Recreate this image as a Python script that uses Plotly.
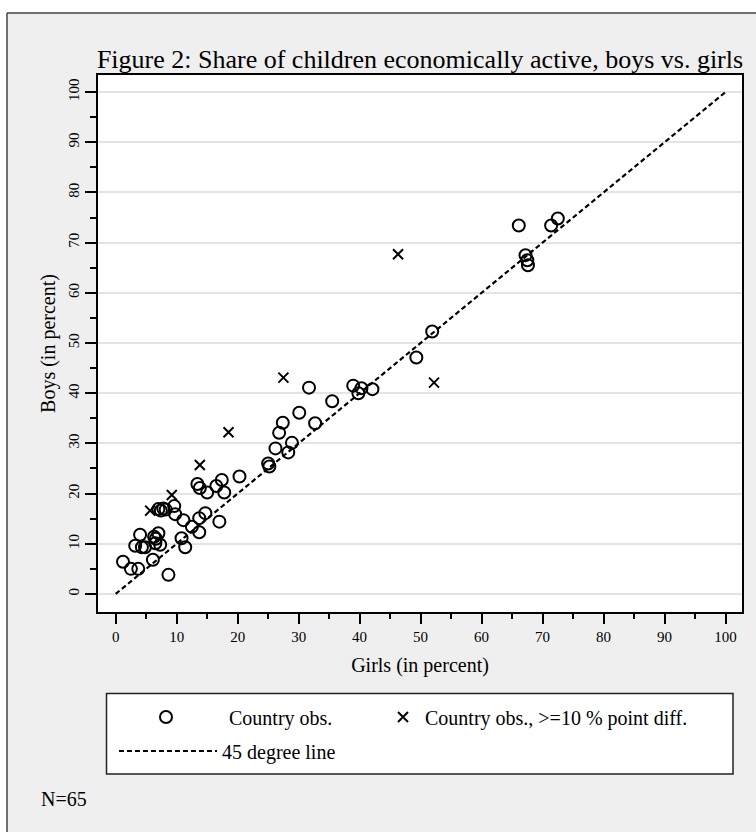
import plotly.graph_objects as go

# Country observations (girls %, boys %)
girls_obs = [1.2, 2.5, 3.7, 6.1, 8.65, 3.2, 4.3, 4.8, 4.0, 6.3, 6.6, 6.5, 7.3, 7.0,
             10.8, 11.4, 7.0, 7.4, 7.8, 8.2, 9.6, 9.75, 11.1, 12.5, 13.7, 14.7, 13.7,
             17.0, 13.4, 13.8, 15.0, 16.5, 17.4, 17.8, 20.3, 25.0, 25.2, 26.2, 28.3,
             28.9, 26.8, 27.4, 32.7, 30.1, 35.5, 31.7, 38.95, 40.3, 39.8, 42.1, 49.3,
             51.9, 66.1, 71.4, 72.5, 67.2, 67.5, 67.6]
boys_obs = [6.4, 5.0, 5.0, 6.8, 3.8, 9.6, 9.3, 9.3, 11.8, 11.4, 11.0, 10.1, 9.8, 12.1,
            11.1, 9.3, 16.9, 16.6, 17.0, 16.8, 17.5, 15.9, 14.7, 13.4, 15.1, 16.1, 12.3,
            14.4, 21.9, 21.1, 20.2, 21.5, 22.7, 20.2, 23.4, 26.0, 25.4, 29.0, 28.2,
            30.1, 32.1, 34.1, 34.0, 36.1, 38.4, 41.1, 41.5, 41.0, 40.0, 40.8, 47.1,
            52.3, 73.4, 73.4, 74.8, 67.5, 66.5, 65.5]

# Observations with >= 10 percentage point difference
girls_diff = [5.65, 9.2, 13.8, 18.5, 27.5, 46.3, 52.2]
boys_diff = [16.6, 19.7, 25.7, 32.2, 43.1, 67.7, 42.1]

# 45 degree line
line_x = [0, 100]
line_y = [0, 100]

tick_vals = list(range(0, 101, 10))
tick_text = [str(v) for v in tick_vals]

FONT = "Liberation Serif"

fig = go.Figure()
fig.add_trace(go.Scatter(
    x=girls_obs, y=boys_obs, mode="markers", name="Country obs.",
    marker=dict(symbol="circle-open", size=12, color="black", line=dict(width=2, color="black")),
    legend="legend",
))
fig.add_trace(go.Scatter(
    x=girls_diff, y=boys_diff, mode="markers", name="Country obs., >=10 % point diff.",
    marker=dict(symbol="x-thin-open", size=10, color="black", line=dict(width=2, color="black")),
    legend="legend2",
))
fig.add_trace(go.Scatter(
    x=line_x, y=line_y, mode="lines", name="45 degree line",
    line=dict(color="black", width=2.2, dash="5px,3px"),
    legend="legend3",
))

W, H = 756, 832
L, R, T, B = 98, 14, 75, 220
pw, ph = W - L - R, H - T - B

def px_x(p):
    return (p - L) / pw

def px_y(p):
    return (H - B - p) / ph

shapes = [
    # grey graph region
    dict(type="rect", xref="paper", yref="paper", layer="below",
         x0=px_x(7), x1=px_x(820), y0=px_y(900), y1=px_y(13),
         fillcolor="#efefef", line=dict(width=0)),
    # outer border (top and left edges visible)
    dict(type="line", xref="paper", yref="paper", layer="below",
         x0=px_x(7), x1=px_x(820), y0=px_y(13), y1=px_y(13),
         line=dict(color="#444444", width=1.5)),
    dict(type="line", xref="paper", yref="paper", layer="below",
         x0=px_x(7), x1=px_x(7), y0=px_y(13), y1=px_y(900),
         line=dict(color="#444444", width=1.5)),
    # white plot region
    dict(type="rect", xref="paper", yref="paper", layer="below",
         x0=0, x1=1, y0=0, y1=1, fillcolor="white", line=dict(width=0)),
    # legend box
    dict(type="rect", xref="paper", yref="paper", layer="below",
         x0=px_x(106.5), x1=px_x(733), y0=px_y(774), y1=px_y(693.5),
         fillcolor="white", line=dict(color="#222222", width=1.5)),
]

legend_common = dict(orientation="v", bgcolor="rgba(0,0,0,0)", borderwidth=0,
                     font=dict(family=FONT, size=20, color="black"),
                     xanchor="left", yanchor="middle")

fig.update_layout(
    width=W, height=H,
    margin=dict(l=L, r=R, t=T, b=B, autoexpand=False),
    paper_bgcolor="white",
    plot_bgcolor="white",
    shapes=shapes,
    title=dict(text="Figure 2: Share of children economically active, boys vs. girls",
               x=0.5, xref="paper", xanchor="center",
               y=1 - 59 / H, yref="container", yanchor="middle",
               font=dict(family=FONT, size=26, color="black")),
    xaxis=dict(range=[-2.9, 102.7], tickvals=tick_vals, ticktext=tick_text,
               ticks="outside", ticklen=10, tickwidth=1.5, tickcolor="black",
               minor=dict(dtick=5, tick0=0, ticks="outside", ticklen=5, tickwidth=1.5,
                          tickcolor="black", showgrid=False),
               showgrid=False, zeroline=False,
               showline=True, mirror=True, linecolor="black", linewidth=2,
               tickfont=dict(family=FONT, size=15, color="black"),
               title=dict(text="Girls (in percent)", standoff=14,
                          font=dict(family=FONT, size=20, color="black"))),
    yaxis=dict(range=[-3.6, 103.4], tickvals=tick_vals, ticktext=tick_text,
               ticks="outside", ticklen=11, tickwidth=1.5, tickcolor="black",
               tickangle=-90,
               minor=dict(dtick=5, tick0=0, ticks="outside", ticklen=6, tickwidth=1.5,
                          tickcolor="black", showgrid=False),
               showgrid=True, gridcolor="#e4e4e4", gridwidth=1.5, zeroline=False,
               showline=True, mirror=True, linecolor="black", linewidth=2,
               tickfont=dict(family=FONT, size=15, color="black"),
               title=dict(text="Boys (in percent)", standoff=5,
                          font=dict(family=FONT, size=20, color="black"))),
    legend=dict(legend_common, x=px_x(103), y=px_y(717), itemwidth=116),
    legend2=dict(legend_common, x=px_x(381), y=px_y(717), itemwidth=34),
    legend3=dict(legend_common, x=px_x(114), y=px_y(751), itemwidth=98),
    annotations=[dict(text="N=65", xref="paper", yref="paper",
                      x=px_x(39), y=px_y(799), xanchor="left", yanchor="middle",
                      showarrow=False, font=dict(family=FONT, size=20, color="black"))],
    showlegend=True,
)

fig.write_html("out.html", config={"displayModeBar": False},
               post_script="document.body.style.margin='0';"
                           "document.body.style.overflow='hidden';"
                           "document.documentElement.style.overflow='hidden';")
